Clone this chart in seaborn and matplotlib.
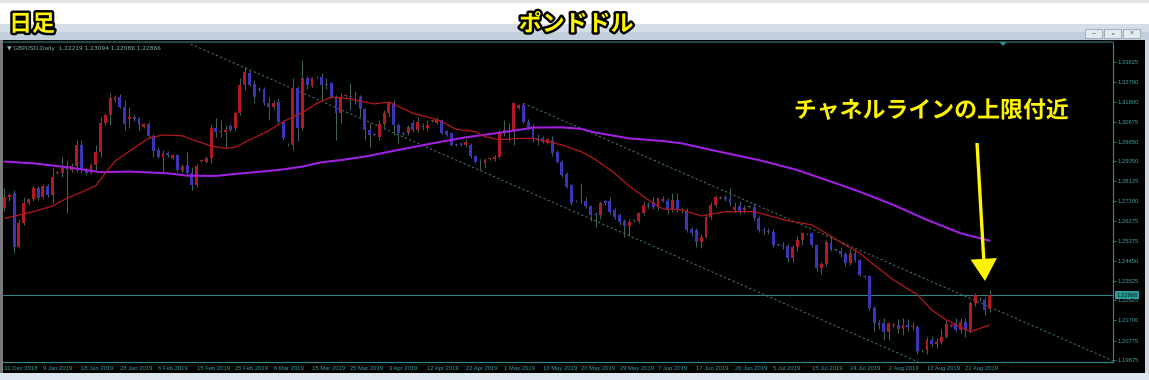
import numpy as np
import pandas as pd
import matplotlib
matplotlib.use("Agg")
import matplotlib.pyplot as plt
import matplotlib.patheffects as pe
from matplotlib.patches import Rectangle, Polygon
import matplotlib.transforms as mtransforms
import seaborn as sns

# ---------------- data (GBPUSD daily) ----------------
opens = [
    1.2690, 1.2741, 1.2757, 1.2511, 1.2621, 1.2711, 1.2729, 1.2783, 1.2738, 1.2791,
    1.2749, 1.2849, 1.2849, 1.2872, 1.2864, 1.2883, 1.2980, 1.2867, 1.2852, 1.2887,
    1.2949, 1.3080, 1.3118, 1.3185, 1.3203, 1.3157, 1.3100, 1.3108, 1.3103, 1.3064,
    1.3077, 1.3021, 1.2957, 1.2926, 1.2944, 1.2920, 1.2934, 1.2860, 1.2887, 1.2849,
    1.2795, 1.2905, 1.2903, 1.2918, 1.3057, 1.3041, 1.3041, 1.3067, 1.3057, 1.3126,
    1.3257, 1.3314, 1.3260, 1.3237, 1.3237, 1.3175, 1.3154, 1.3180, 1.3087, 1.2985,
    1.2980, 1.3241, 1.3057, 1.3287, 1.3253, 1.3295, 1.3295, 1.3260, 1.3264, 1.3203,
    1.3126, 1.3205, 1.3205, 1.3200, 1.3203, 1.3144, 1.3049, 1.3030, 1.3018, 1.3076,
    1.3126, 1.3172, 1.3072, 1.3033, 1.3033, 1.3083, 1.3049, 1.3066, 1.3057, 1.3090,
    1.3080, 1.3095, 1.3044, 1.3033, 1.2982, 1.2990, 1.2980, 1.2980, 1.2929, 1.2903,
    1.2895, 1.2915, 1.2914, 1.2926, 1.3033, 1.3049, 1.3049, 1.3150, 1.3165, 1.3087,
    1.3064, 1.3010, 1.3010, 1.2990, 1.3003, 1.2949, 1.2903, 1.2846, 1.2795, 1.2722,
    1.2720, 1.2723, 1.2698, 1.2660, 1.2657, 1.2723, 1.2723, 1.2680, 1.2657, 1.2630,
    1.2606, 1.2630, 1.2630, 1.2664, 1.2703, 1.2718, 1.2695, 1.2730, 1.2722, 1.2680,
    1.2726, 1.2682, 1.2676, 1.2590, 1.2587, 1.2534, 1.2557, 1.2649, 1.2703, 1.2735,
    1.2741, 1.2730, 1.2680, 1.2700, 1.2680, 1.2695, 1.2695, 1.2641, 1.2587, 1.2582,
    1.2580, 1.2520, 1.2518, 1.2515, 1.2456, 1.2511, 1.2540, 1.2570, 1.2572, 1.2518,
    1.2414, 1.2430, 1.2526, 1.2495, 1.2490, 1.2475, 1.2434, 1.2483, 1.2449, 1.2375,
    1.2375, 1.2226, 1.2157, 1.2160, 1.2118, 1.2150, 1.2150, 1.2130, 1.2150, 1.2140,
    1.2142, 1.2035, 1.2033, 1.2080, 1.2062, 1.2070, 1.2095, 1.2145, 1.2157, 1.2126,
    1.2165, 1.2126, 1.2249, 1.2270, 1.2264, 1.22219,
]
highs = [
    1.2780, 1.2760, 1.2770, 1.2640, 1.2741, 1.2735, 1.2790, 1.2790, 1.2800, 1.2800,
    1.2872, 1.2860, 1.2926, 1.2911, 1.2895, 1.3003, 1.3003, 1.2875, 1.2895, 1.2980,
    1.3111, 1.3126, 1.3218, 1.3210, 1.3215, 1.3187, 1.3157, 1.3120, 1.3111, 1.3080,
    1.3085, 1.3030, 1.2972, 1.2955, 1.2950, 1.2940, 1.2940, 1.2890, 1.2949, 1.2880,
    1.2890, 1.2915, 1.2930, 1.3072, 1.3103, 1.3095, 1.3072, 1.3075, 1.3135, 1.3287,
    1.3341, 1.3330, 1.3280, 1.3245, 1.3245, 1.3203, 1.3185, 1.3190, 1.3095, 1.2990,
    1.3287, 1.3250, 1.3372, 1.3300, 1.3295, 1.3300, 1.3310, 1.3290, 1.3270, 1.3210,
    1.3218, 1.3215, 1.3265, 1.3230, 1.3210, 1.3150, 1.3080, 1.3035, 1.3095, 1.3141,
    1.3180, 1.3187, 1.3080, 1.3040, 1.3070, 1.3095, 1.3110, 1.3080, 1.3095, 1.3095,
    1.3110, 1.3100, 1.3050, 1.3040, 1.2990, 1.2995, 1.3005, 1.2990, 1.2935, 1.2915,
    1.2920, 1.2920, 1.2935, 1.3049, 1.3095, 1.3080, 1.3180, 1.3170, 1.3175, 1.3100,
    1.3075, 1.3030, 1.3020, 1.3010, 1.3020, 1.2955, 1.2910, 1.2855, 1.2800, 1.2728,
    1.2803, 1.2740, 1.2705, 1.2670, 1.2720, 1.2728, 1.2741, 1.2690, 1.2665, 1.2640,
    1.2640, 1.2636, 1.2672, 1.2720, 1.2715, 1.2741, 1.2741, 1.2745, 1.2735, 1.2757,
    1.2760, 1.2695, 1.2690, 1.2600, 1.2595, 1.2570, 1.2660, 1.2715, 1.2750, 1.2745,
    1.2750, 1.2780, 1.2715, 1.2720, 1.2705, 1.2700, 1.2710, 1.2650, 1.2600, 1.2595,
    1.2590, 1.2525, 1.2530, 1.2525, 1.2520, 1.2560, 1.2580, 1.2575, 1.2580, 1.2525,
    1.2440, 1.2540, 1.2560, 1.2500, 1.2510, 1.2485, 1.2500, 1.2500, 1.2455, 1.2380,
    1.2380, 1.2235, 1.2170, 1.2180, 1.2165, 1.2160, 1.2175, 1.2180, 1.2175, 1.2165,
    1.2150, 1.2040, 1.2095, 1.2100, 1.2090, 1.2130, 1.2170, 1.2155, 1.2180, 1.2180,
    1.2180, 1.2260, 1.2295, 1.2280, 1.2280, 1.23094,
]
lows = [
    1.2675, 1.2720, 1.2480, 1.2505, 1.2610, 1.2705, 1.2720, 1.2725, 1.2730, 1.2740,
    1.2711, 1.2845, 1.2834, 1.2665, 1.2857, 1.2857, 1.2849, 1.2841, 1.2845, 1.2864,
    1.2926, 1.3070, 1.3072, 1.3180, 1.3150, 1.3049, 1.3057, 1.3090, 1.3049, 1.3057,
    1.3011, 1.2926, 1.2918, 1.2857, 1.2925, 1.2915, 1.2860, 1.2850, 1.2841, 1.2772,
    1.2785, 1.2900, 1.2895, 1.2895, 1.3018, 1.3018, 1.2964, 1.3045, 1.3050, 1.3118,
    1.3234, 1.3250, 1.3172, 1.3230, 1.3165, 1.3095, 1.3145, 1.3080, 1.3003, 1.2975,
    1.2957, 1.3000, 1.3050, 1.3240, 1.3245, 1.3288, 1.3187, 1.3240, 1.3195, 1.3003,
    1.3080, 1.3200, 1.3141, 1.3170, 1.3110, 1.3003, 1.2972, 1.3020, 1.3003, 1.3064,
    1.3110, 1.3026, 1.2987, 1.3025, 1.3025, 1.3040, 1.3040, 1.3050, 1.3049, 1.3085,
    1.3075, 1.3030, 1.3020, 1.2975, 1.2975, 1.2975, 1.2970, 1.2920, 1.2895, 1.2864,
    1.2880, 1.2910, 1.2905, 1.2920, 1.3020, 1.3000, 1.2980, 1.3145, 1.3080, 1.3050,
    1.2995, 1.2980, 1.2990, 1.2985, 1.2930, 1.2895, 1.2830, 1.2780, 1.2705, 1.2715,
    1.2710, 1.2690, 1.2630, 1.2600, 1.2640, 1.2705, 1.2660, 1.2640, 1.2610, 1.2557,
    1.2560, 1.2625, 1.2620, 1.2655, 1.2690, 1.2685, 1.2680, 1.2715, 1.2660, 1.2670,
    1.2672, 1.2665, 1.2580, 1.2560, 1.2511, 1.2506, 1.2550, 1.2640, 1.2695, 1.2730,
    1.2720, 1.2700, 1.2670, 1.2660, 1.2665, 1.2690, 1.2635, 1.2580, 1.2570, 1.2570,
    1.2510, 1.2512, 1.2500, 1.2440, 1.2440, 1.2490, 1.2520, 1.2565, 1.2510, 1.2400,
    1.2384, 1.2420, 1.2490, 1.2490, 1.2465, 1.2420, 1.2425, 1.2440, 1.2375, 1.2365,
    1.2220, 1.2120, 1.2130, 1.2080, 1.2080, 1.2140, 1.2110, 1.2105, 1.2120, 1.2125,
    1.2015, 1.2025, 1.2015, 1.2050, 1.2045, 1.2060, 1.2090, 1.2140, 1.2115, 1.2110,
    1.2095, 1.2110, 1.2235, 1.2262, 1.2195, 1.22086,
]
closes = [
    1.2741, 1.2749, 1.2511, 1.2618, 1.2714, 1.2729, 1.2783, 1.2734, 1.2791, 1.2749,
    1.2834, 1.2856, 1.2872, 1.2864, 1.2883, 1.2980, 1.2867, 1.2849, 1.2887, 1.2949,
    1.3080, 1.3118, 1.3195, 1.3203, 1.3157, 1.3077, 1.3108, 1.3100, 1.3072, 1.3075,
    1.3021, 1.2954, 1.2926, 1.2944, 1.2934, 1.2934, 1.2864, 1.2883, 1.2849, 1.2795,
    1.2883, 1.2911, 1.2921, 1.3057, 1.3041, 1.3046, 1.3049, 1.3049, 1.3126, 1.3257,
    1.3318, 1.3257, 1.3200, 1.3235, 1.3172, 1.3154, 1.3175, 1.3087, 1.3011, 1.2983,
    1.3241, 1.3057, 1.3287, 1.3257, 1.3287, 1.3293, 1.3257, 1.3258, 1.3203, 1.3126,
    1.3200, 1.3210, 1.3200, 1.3203, 1.3144, 1.3049, 1.3026, 1.3025, 1.3076, 1.3126,
    1.3172, 1.3072, 1.3033, 1.3030, 1.3061, 1.3049, 1.3087, 1.3064, 1.3072, 1.3093,
    1.3095, 1.3036, 1.3026, 1.2980, 1.2980, 1.2980, 1.2995, 1.2929, 1.2903, 1.2900,
    1.2910, 1.2918, 1.2926, 1.3033, 1.3049, 1.3046, 1.3172, 1.3165, 1.3087, 1.3057,
    1.3006, 1.3008, 1.2995, 1.3006, 1.2941, 1.2903, 1.2841, 1.2787, 1.2711, 1.2720,
    1.2722, 1.2698, 1.2657, 1.2657, 1.2711, 1.2711, 1.2672, 1.2649, 1.2626, 1.2606,
    1.2626, 1.2633, 1.2664, 1.2703, 1.2700, 1.2695, 1.2734, 1.2722, 1.2680, 1.2726,
    1.2680, 1.2680, 1.2587, 1.2575, 1.2534, 1.2557, 1.2649, 1.2703, 1.2741, 1.2738,
    1.2730, 1.2710, 1.2695, 1.2672, 1.2690, 1.2695, 1.2641, 1.2587, 1.2582, 1.2580,
    1.2518, 1.2518, 1.2515, 1.2456, 1.2511, 1.2540, 1.2572, 1.2568, 1.2518, 1.2414,
    1.2430, 1.2530, 1.2495, 1.2495, 1.2475, 1.2434, 1.2483, 1.2449, 1.2380, 1.2372,
    1.2226, 1.2157, 1.2150, 1.2118, 1.2157, 1.2155, 1.2130, 1.2150, 1.2140, 1.2142,
    1.2030, 1.2033, 1.2080, 1.2062, 1.2070, 1.2095, 1.2153, 1.2150, 1.2126, 1.2165,
    1.2126, 1.2249, 1.2287, 1.2268, 1.2218, 1.22866,
]

# moving averages (bar number, value)
ma_fast_bar = [0, 6, 10, 13, 16, 19, 21, 23, 27, 30, 33, 37, 39, 43, 46, 48, 51, 55, 58, 62,
               65, 68, 72, 73, 77, 80, 82, 85, 89, 91, 94, 98, 100, 103, 107, 110, 113, 116,
               120, 123, 127, 130, 134, 137, 141, 145, 150, 156, 163, 168, 171, 175, 178,
               181, 185, 190, 193, 196, 201, 205]
ma_fast_val = [1.2641, 1.2672, 1.2698, 1.2734, 1.2762, 1.2792, 1.2850, 1.2905, 1.2966, 1.3011,
               1.3026, 1.3022, 1.3005, 1.2975, 1.2964, 1.2969, 1.3003, 1.3046, 1.3087, 1.3130,
               1.3172, 1.3200, 1.3193, 1.3187, 1.3169, 1.3178, 1.3157, 1.3126, 1.3103, 1.3087,
               1.3052, 1.3041, 1.3018, 1.3003, 1.3010, 1.3010, 1.2995, 1.2980, 1.2949, 1.2912,
               1.2849, 1.2790, 1.2726, 1.2685, 1.2680, 1.2652, 1.2672, 1.2672, 1.2630, 1.2611,
               1.2572, 1.2518, 1.2480, 1.2426, 1.2357, 1.2288, 1.2218, 1.2172, 1.2118, 1.2149]
ma_slow_bar = [0, 6, 13, 17, 20, 26, 34, 38, 44, 48, 55, 58, 62, 66, 70, 75, 82, 89, 96, 102,
               107, 110, 116, 120, 123, 130, 137, 141, 147, 157, 165, 173, 178, 185, 192, 199, 205]
ma_slow_val = [1.2903, 1.2895, 1.2877, 1.2864, 1.2854, 1.2857, 1.2849, 1.2838, 1.2837, 1.2846,
               1.2860, 1.2867, 1.2880, 1.2900, 1.2910, 1.2926, 1.2957, 1.2987, 1.3015, 1.3033,
               1.3049, 1.3060, 1.3061, 1.3054, 1.3037, 1.3010, 1.2998, 1.2987, 1.2957, 1.2910,
               1.2864, 1.2803, 1.2764, 1.2703, 1.2634, 1.2572, 1.2538]

# equidistant channel (two parallel dotted lines), anchor points
chan_lower_bar = [30, 232]
chan_lower_val = [1.3530, 1.1573]
chan_upper_bar = [108, 232]
chan_upper_val = [1.3172, 1.1971]

date_labels = ["31 Dec 2018", "9 Jan 2019", "18 Jan 2019", "28 Jan 2019", "6 Feb 2019",
               "15 Feb 2019", "25 Feb 2019", "6 Mar 2019", "15 Mar 2019", "25 Mar 2019",
               "3 Apr 2019", "12 Apr 2019", "22 Apr 2019", "1 May 2019", "10 May 2019",
               "20 May 2019", "29 May 2019", "7 Jun 2019", "17 Jun 2019", "26 Jun 2019",
               "5 Jul 2019", "15 Jul 2019", "24 Jul 2019", "2 Aug 2019", "12 Aug 2019",
               "21 Aug 2019"]
date_label_bars = list(range(0, 201, 8))
price_ticks = [1.33625, 1.32700, 1.31800, 1.30875, 1.29950, 1.29050, 1.28125, 1.27200,
               1.26275, 1.25375, 1.24450, 1.23525, 1.22625, 1.21700, 1.20775, 1.19875]

title_left = "日足"
title_center = "ポンドドル"
note_text = "チャネルラインの上限付近"
header_text = "▼ GBPUSD,Daily  1.22219 1.23094 1.22086 1.22866"

# ---------------- style ----------------
sns.set_theme(style="dark", rc={"axes.facecolor": "black", "figure.facecolor": "black"})
plt.rcParams["font.family"] = ["Liberation Sans", "DejaVu Sans", "Noto Sans CJK JP"]

BULL = "#b01a22"
BEAR = "#3c34b8"
WICK = "#3f625d"
AXIS = "#2a8c8c"
TICKC = "#3fa3a0"
YEL = "#fff500"
JP = ["Noto Sans CJK JP", "DejaVu Sans"]

W, H = 1149, 380
fig = plt.figure(figsize=(W / 100, H / 100), dpi=100, facecolor="black")
ax = fig.add_axes([3 / W, (H - 362) / H, 1110 / W, 320 / H])
ax.set_facecolor("black")
ax.grid(False)


def rect(x0, y0, x1, y1, color, z=1, **kw):
    fig.add_artist(Rectangle((x0 / W, 1 - y1 / H), (x1 - x0) / W, (y1 - y0) / H,
                             transform=fig.transFigure, facecolor=color,
                             edgecolor=kw.get("ec", "none"), lw=kw.get("lw", 0), zorder=z))


# window chrome
rect(0, 0, W, 3, "#e2e2e2")
rect(0, 3, W, 24, "#ffffff")
rect(0, 24, W, 32, "#d5dee8")
rect(0, 32, W, 40, "#c2cedb")
rect(0, 40, 3, 373, "#7a7a7a")
rect(1145, 40, W, 373, "#cfd5db")
rect(0, 373, W, H, "#dde5ee")
for bx in (1085, 1104, 1123):
    rect(bx, 29, bx + 17, 38, "#e4e9ef", z=2, ec="#9aa6b2", lw=0.6)
fig.text(1093.5 / W, 1 - 33.5 / H, "–", fontsize=5, color="#555", ha="center", va="center")
fig.text(1112.5 / W, 1 - 33.5 / H, "▫", fontsize=5, color="#555", ha="center", va="center")
fig.text(1131.5 / W, 1 - 33.5 / H, "×", fontsize=5, color="#555", ha="center", va="center")
fig.add_artist(Polygon([[999 / W, 1 - 42 / H], [1007 / W, 1 - 42 / H], [1003 / W, 1 - 46 / H]],
                       closed=True, transform=fig.transFigure, facecolor=AXIS,
                       edgecolor="none", zorder=3))

# ---------------- candles ----------------
df = pd.DataFrame({"bar": np.arange(len(closes)), "open": opens, "high": highs,
                   "low": lows, "close": closes})
diff = df["close"] - df["open"]
body_col = np.where(diff > 0.00004, BULL, np.where(diff < -0.00004, BEAR, WICK))
body_lo = np.minimum(df["open"], df["close"])
body_h = np.maximum(diff.abs(), 0.00025)

ax.vlines(df["bar"], df["low"], df["high"], color=WICK, lw=0.75, zorder=2)
ax.bar(df["bar"], body_h, bottom=body_lo, width=0.6, color=body_col, linewidth=0, zorder=3)

# channel lines
ax.plot(chan_lower_bar, chan_lower_val, ls=(0, (2.2, 2.2)), color="#4a716c", lw=0.75, zorder=1)
ax.plot(chan_upper_bar, chan_upper_val, ls=(0, (2.2, 2.2)), color="#4a716c", lw=0.75, zorder=1)

# moving averages
sns.lineplot(x=ma_slow_bar, y=ma_slow_val, ax=ax, color="#a020e0", lw=1.5, zorder=4)
sns.lineplot(x=ma_fast_bar, y=ma_fast_val, ax=ax, color="#b3191c", lw=0.9, zorder=4)

# current price line + label
last = closes[-1]
ax.axhline(last, color=AXIS, lw=0.7, zorder=1.5)
trans = mtransforms.blended_transform_factory(ax.transAxes, ax.transData)
ax.text(1.0028, last, f"{last:.5f}", transform=trans, fontsize=4.2, color="#042222",
        ha="left", va="center", zorder=6, clip_on=False,
        bbox=dict(boxstyle="square,pad=0.25", fc="#2a9c98", ec="none"))

# header inside chart
ax.text(0.0036, 0.981, header_text, transform=ax.transAxes, fontsize=4.2,
        color="#86b3b0", ha="left", va="center", family=["DejaVu Sans"])

# ---------------- axes ----------------
ax.set_xlim(-0.31, 230.7)
ax.set_ylim(1.19783, 1.34548)
ax.set_xticks(date_label_bars)
ax.set_xticklabels(date_labels, ha="left")
ax.yaxis.tick_right()
ax.set_yticks(price_ticks)
ax.set_yticklabels([f"{v:.5f}" for v in price_ticks])
ax.tick_params(axis="x", direction="out", length=2.2, width=0.6, color=AXIS, pad=0.6,
               labelsize=4.2, labelcolor=TICKC)
ax.tick_params(axis="y", direction="out", length=2.2, width=0.6, color=AXIS, pad=1.2,
               labelsize=4.2, labelcolor=TICKC)
ax.set_xlabel("")
ax.set_ylabel("")
for side in ("right", "bottom"):
    ax.spines[side].set_color(AXIS)
    ax.spines[side].set_linewidth(0.8)
ax.spines["top"].set_color("#1d4b4b")
ax.spines["top"].set_linewidth(1.4)
ax.spines["left"].set_visible(False)

# ---------------- Japanese annotations ----------------
stroke = [pe.withStroke(linewidth=3.5, foreground="black")]
fig.text(32 / W, 1 - 24.5 / H, title_left, fontsize=16.5, fontweight="bold", color=YEL,
         family=JP, ha="center", va="center", path_effects=stroke, zorder=10)
fig.text(576 / W, 1 - 24.5 / H, title_center, fontsize=16.5, fontweight="bold", color=YEL,
         family=JP, ha="center", va="center", path_effects=stroke, zorder=10)
fig.text(931 / W, 1 - 111 / H, note_text, fontsize=16.5, fontweight="bold", color=YEL,
         family=JP, ha="center", va="center", path_effects=stroke, zorder=10)

ax.annotate("", xy=(985, H - 281), xytext=(977, H - 143), xycoords="figure pixels",
            textcoords="figure pixels", annotation_clip=False,
            arrowprops=dict(width=2.4, headwidth=19, headlength=16, shrink=0,
                            facecolor=YEL, edgecolor=YEL, lw=0), zorder=10)

fig.savefig("out.png", dpi=100, facecolor=fig.get_facecolor())
